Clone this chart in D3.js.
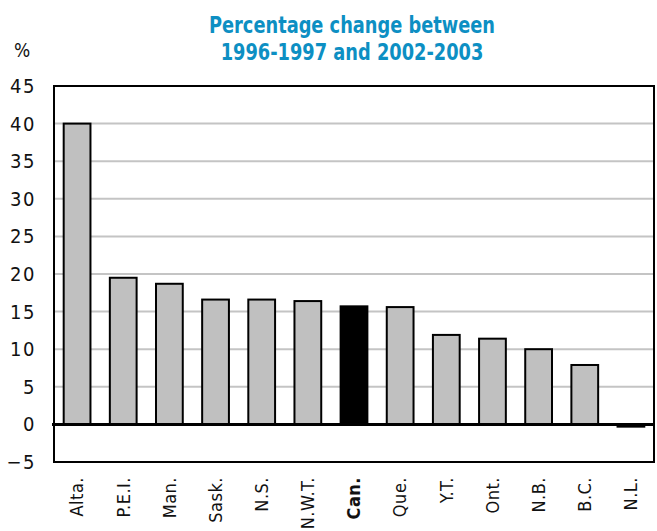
<!DOCTYPE html>
<html>
<head>
<meta charset="utf-8">
<script src="https://cdn.jsdelivr.net/npm/d3@7"></script>
<style>
  body { margin: 0; background: #fff; }
  svg text { font-family: "Liberation Sans Narrow", "DejaVu Sans", sans-serif; font-stretch: condensed; }
</style>
</head>
<body>
<svg id="chart" width="657" height="531"></svg>
<script>
// data
var provinces = ['Alta.', 'P.E.I.', 'Man.', 'Sask.', 'N.S.', 'N.W.T.', 'Can.', 'Que.', 'Y.T.', 'Ont.', 'N.B.', 'B.C.', 'N.L.'];
var changes = [40.0, 19.5, 18.7, 16.6, 16.6, 16.4, 15.7, 15.6, 11.9, 11.4, 10.0, 7.9, -0.3];
var yTicks = [-5, 0, 5, 10, 15, 20, 25, 30, 35, 40, 45];
var titleLines = ['Percentage change between', '1996-1997 and 2002-2003'];
var highlight = 'Can.';

var svg = d3.select('#chart');
var plotLeft = 54, plotRight = 654, plotTop = 86, plotBottom = 462;

var x = d3.scaleBand()
  .domain(provinces)
  .range([plotLeft, plotRight])
  .paddingInner(0.42)
  .paddingOuter(0.21);

var y = d3.scaleLinear()
  .domain([-5, 45])
  .range([plotBottom, plotTop]);

// gridlines
svg.append('g')
  .selectAll('line')
  .data(yTicks.filter(function(t) { return t > 0 && t < 45; }))
  .join('line')
  .attr('x1', plotLeft).attr('x2', plotRight)
  .attr('y1', function(d) { return y(d); })
  .attr('y2', function(d) { return y(d); })
  .attr('stroke', '#c4c4c4')
  .attr('stroke-width', 2);

// bars
svg.append('g')
  .selectAll('rect')
  .data(provinces)
  .join('rect')
  .attr('x', function(d) { return x(d); })
  .attr('width', x.bandwidth())
  .attr('y', function(d, i) { return y(Math.max(0, changes[i])); })
  .attr('height', function(d, i) { return Math.abs(y(changes[i]) - y(0)); })
  .attr('fill', function(d) { return d === highlight ? '#000' : '#c0c0c0'; })
  .attr('stroke', '#000')
  .attr('stroke-width', 2);

// frame
svg.append('rect')
  .attr('x', plotLeft).attr('y', plotTop)
  .attr('width', plotRight - plotLeft).attr('height', plotBottom - plotTop)
  .attr('fill', 'none')
  .attr('stroke', '#000')
  .attr('stroke-width', 2);

// zero line
svg.append('line')
  .attr('x1', plotLeft - 2).attr('x2', plotRight)
  .attr('y1', y(0)).attr('y2', y(0))
  .attr('stroke', '#000')
  .attr('stroke-width', 3);

// y axis labels
var yAxis = d3.axisLeft(y).tickValues(yTicks).tickSize(0).tickPadding(18);
var yg = svg.append('g').attr('transform', 'translate(' + plotLeft + ',0)').call(yAxis);
yg.attr('font-family', null);
yg.select('.domain').remove();
yg.selectAll('text')
  .attr('font-size', 20)
  .attr('fill', '#111')
  .attr('letter-spacing', 1.5);

// x axis labels
var xAxis = d3.axisBottom(x).tickSize(0).tickPadding(0);
var xg = svg.append('g').attr('transform', 'translate(0,' + (plotBottom + 15) + ')').call(xAxis);
xg.attr('font-family', null);
xg.select('.domain').remove();
xg.selectAll('text')
  .attr('transform', 'rotate(-90)')
  .attr('x', 0).attr('y', 0).attr('dy', '0.35em')
  .attr('text-anchor', 'end')
  .attr('font-size', 18)
  .attr('fill', '#111')
  .attr('letter-spacing', 0.5)
  .attr('font-weight', function(d) { return d === highlight ? 'bold' : 'normal'; });

// unit
svg.append('text')
  .attr('x', 22).attr('y', 57)
  .attr('text-anchor', 'middle')
  .attr('font-size', 19)
  .attr('fill', '#111')
  .text('%');

// title, squeezed to the narrow face of the original
svg.append('g')
  .selectAll('text')
  .data(titleLines)
  .join('text')
  .attr('transform', function(d, i) { return 'translate(352,' + (33 + i * 27) + ') scale(0.86,1)'; })
  .attr('text-anchor', 'middle')
  .attr('font-size', 23)
  .attr('font-weight', 'bold')
  .attr('fill', '#0d8fc3')
  .text(function(d) { return d; });
</script>
</body>
</html>
